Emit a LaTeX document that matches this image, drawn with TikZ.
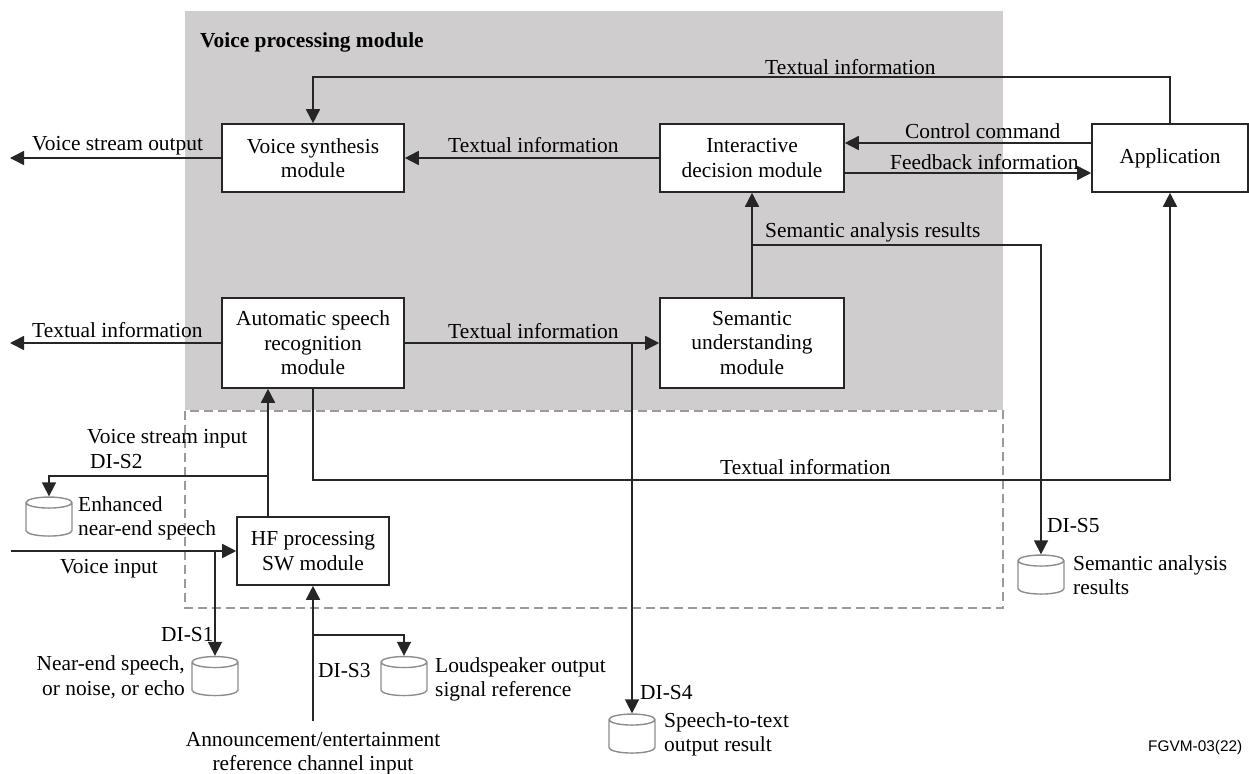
\documentclass[tikz,border=0pt]{standalone}
\usepackage{fontspec}
\setmainfont{Liberation Serif}
\setsansfont{Liberation Sans}
\usepackage{tikz}
\usetikzlibrary{arrows.meta,shapes.geometric}

\definecolor{modgrey}{HTML}{CFCDCE}
\definecolor{dashgrey}{HTML}{9A9A9A}
\definecolor{cylgrey}{HTML}{8C8C8C}

\tikzset{
  module/.style={draw=black!85, fill=white, line width=1.6pt, align=center, inner sep=0pt, font=\fontsize{21.4}{24.5}\selectfont},
  link/.style={draw=black!85, line width=1.6pt, -{Triangle[length=14pt,width=14pt]}},
  store/.style={draw=cylgrey, line width=1.4pt, cylinder, shape border rotate=90, shape aspect=0.5, minimum width=46pt, minimum height=39pt, inner sep=11pt},
  lbl/.style={inner sep=0pt, align=left, anchor=base west, font=\fontsize{21.4}{24.5}\selectfont}
}

\begin{document}
\begin{tikzpicture}[x=1pt,y=-1pt]
      \useasboundingbox (0,0) rectangle (1249,773);

      % Draw the background areas
      \fill[modgrey] (185,11) rectangle (1003,410);
      \draw[dashgrey, line width=1.3pt, dash pattern=on 9pt off 5pt] (185,411) rectangle (1003,608);

      % Draw the modules
      \node[module, minimum width=182pt, minimum height=68pt] (synth) at (313,158) {Voice synthesis\\module};
      \node[module, minimum width=184pt, minimum height=68pt] (decision) at (752,158) {Interactive\\decision module};
      \node[module, minimum width=156pt, minimum height=68pt] (app) at (1170,158) {Application};
      \node[module, minimum width=182pt, minimum height=90pt] (asr) at (313,343) {Automatic speech\\recognition\\module};
      \node[module, minimum width=184pt, minimum height=90pt] (semantic) at (752,343) {Semantic\\understanding\\module};
      \node[module, minimum width=152pt, minimum height=68pt] (hf) at (313,551) {HF processing\\SW module};

      % Draw the data stores
      \node[store] (storeS2) at (49,522) {};
      \node[store] (storeS1) at (215,681.5) {};
      \node[store] (storeS3) at (404,681.5) {};
      \node[store] (storeS4) at (632,739) {};
      \node[store] (storeS5) at (1041,580) {};

      % Free ends and branch points
      \coordinate (voiceOut) at (10,158);
      \coordinate (textOut) at (10,343);
      \coordinate (voiceIn) at (11,551);
      \coordinate (refIn) at (313,721);
      \coordinate (branchS1) at (215,551);
      \coordinate (branchS2) at (268,476);
      \coordinate (branchS3) at (313,635);
      \coordinate (branchS4) at (632,343);
      \coordinate (branchS5) at (752,245);

      % Draw the edges
      \draw[link] (app.north) -- ++(0,-46) -| (synth.north);
      \draw[link] (synth.west) -- (voiceOut);
      \draw[link] (decision.west) -- (synth.east);
      \draw[link] (app.west |- 0,143) -- (decision.east |- 0,143);
      \draw[link] (decision.east |- 0,173) -- (app.west |- 0,173);
      \draw[link] (semantic.north) -- (decision.south);
      \draw[link] (branchS5) -| (storeS5.north);
      \draw[link] (asr.west) -- (textOut);
      \draw[link] (asr.east) -- (semantic.west);
      \draw[link] (branchS4) -- (storeS4.north);
      \draw[link] (asr.south) -- ++(0,91) -| (app.south);
      \draw[link] (hf.north -| branchS2) -- (asr.south -| branchS2);
      \draw[link] (branchS2) -| (storeS2.north);
      \draw[link] (voiceIn) -- (hf.west);
      \draw[link] (branchS1) -- (storeS1.north);
      \draw[link] (refIn) -- (hf.south);
      \draw[link] (branchS3) -| (storeS3.north);

      % Draw the labels
      \node[lbl, font=\fontsize{21.4}{24.5}\bfseries\selectfont] (title) at (200,47.5) {Voice processing module};
      \node[lbl] (lblTop) at (765,74.5) {Textual information};
      \node[lbl] (lblVoiceOut) at (32,150.5) {Voice stream output};
      \node[lbl] (lblSynth) at (448,152.5) {Textual information};
      \node[lbl] (lblControl) at (905,138.5) {Control command};
      \node[lbl] (lblFeedback) at (890,169.5) {Feedback information};
      \node[lbl] (lblResults) at (765,237.5) {Semantic analysis results};
      \node[lbl] (lblTextOut) at (32,337.5) {Textual information};
      \node[lbl] (lblAsr) at (448,338.5) {Textual information};
      \node[lbl] (lblApp) at (720,474.5) {Textual information};
      \node[lbl] (lblVoiceStream) at (87,443.5) {Voice stream input};
      \node[lbl] (lblS2) at (90,468.5) {DI-S2};
      \node[lbl] (lblEnhanced) at (78,535.5) {Enhanced\\near-end speech};
      \node[lbl] (lblVoiceIn) at (60,573.5) {Voice input};
      \node[lbl] (lblS1) at (161,641.5) {DI-S1};
      \node[lbl, align=right, anchor=base east] (lblNear) at (185,695) {Near-end speech,\\or noise, or echo};
      \node[lbl] (lblS3) at (318,677.5) {DI-S3};
      \node[lbl] (lblSpeaker) at (435,696.5) {Loudspeaker output\\signal reference};
      \node[lbl, align=center, anchor=base] (lblRef) at (313,770.5) {Announcement/entertainment\\reference channel input};
      \node[lbl] (lblS4) at (640,699) {DI-S4};
      \node[lbl] (lblSpeech) at (664,751.5) {Speech-to-text\\output result};
      \node[lbl] (lblS5) at (1047,532.5) {DI-S5};
      \node[lbl] (lblAnalysis) at (1073,594.5) {Semantic analysis\\results};
      \node[inner sep=0pt, anchor=base west, font=\fontsize{15.4}{18}\selectfont\sffamily] (figId) at (1148,751) {FGVM-03(22)};
\end{tikzpicture}
\end{document}
